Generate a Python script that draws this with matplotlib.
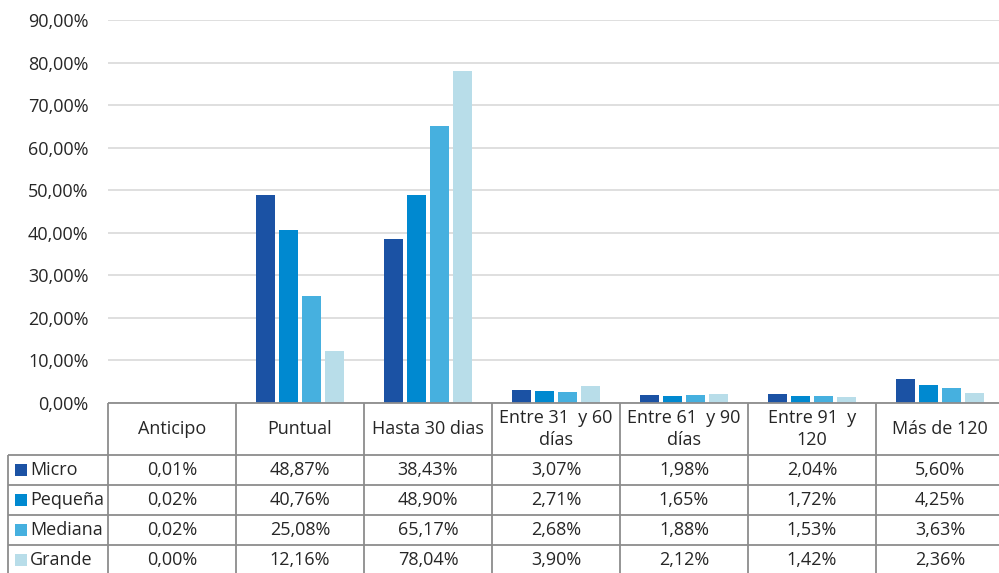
import numpy as np
import matplotlib.pyplot as plt
from matplotlib.patches import Rectangle

# --- DATA ---
categories = ["Anticipo", "Puntual", "Hasta 30 dias", "Entre 31  y 60\ndías",
              "Entre 61  y 90\ndías", "Entre 91  y\n120", "Más de 120"]
series_names = ["Micro", "Pequeña", "Mediana", "Grande"]
micro = [0.01, 48.87, 38.43, 3.07, 1.98, 2.04, 5.60]
pequena = [0.02, 40.76, 48.90, 2.71, 1.65, 1.72, 4.25]
mediana = [0.02, 25.08, 65.17, 2.68, 1.88, 1.53, 3.63]
grande = [0.00, 12.16, 78.04, 3.90, 2.12, 1.42, 2.36]
yticks = [0, 10, 20, 30, 40, 50, 60, 70, 80, 90]

series = [micro, pequena, mediana, grande]
colors = ["#1b52a4", "#0089d0", "#46b0df", "#b8dde9"]

def pct(v):
    return f"{v:.2f}%".replace(".", ",")

plt.rcParams['font.family'] = ['Open Sans', 'DejaVu Sans']
TXT = "#262626"
LINE = "#8c8c8c"
FS = 13

W, H = 999, 573
fig = plt.figure(figsize=(W / 100, H / 100), dpi=100)

# pixel geometry
x0, x1 = 108, 1004
y_top, y_zero = 20, 403
tbl_bottom = 575

ax = fig.add_axes([x0 / W, (H - y_zero) / H, (x1 - x0) / W, (y_zero - y_top) / H])
n = len(categories)
x = np.arange(n)
bar_w = 0.148
step = 0.18
for i, (vals, c) in enumerate(zip(series, colors)):
    ax.bar(x + (i - 1.5) * step, vals, width=bar_w, color=c, zorder=3)

ax.set_xlim(-0.5, n - 0.5)
ax.set_ylim(0, 90)
ax.set_yticks(yticks)
ax.set_yticklabels([pct(v) for v in yticks], fontsize=FS, color=TXT)
ax.tick_params(axis='y', length=0, pad=14)
ax.set_xticks([])
ax.grid(axis='y', color="#d9d9d9", linewidth=1.2, zorder=0)
for s in ax.spines.values():
    s.set_visible(False)

# --- DATA TABLE ---
tax = fig.add_axes([x0 / W, (H - tbl_bottom) / H, (x1 - x0) / W, (tbl_bottom - y_zero) / H])
tax.set_xlim(-0.5, n - 0.5)
tax.set_ylim(tbl_bottom, y_zero)
tax.axis('off')

px = n / (x1 - x0)  # category units per pixel
label_left = -0.5 - (x0 - 8) * px
row_edges = [455, 485, 515, 545, tbl_bottom]

kw = dict(color=LINE, linewidth=1.3, clip_on=False, solid_capstyle='butt')
tax.plot([-0.5, n - 0.5], [y_zero, y_zero], **kw)
for y in row_edges[:-1]:
    tax.plot([label_left, n - 0.5], [y, y], **kw)
for k in range(n + 1):
    tax.plot([k - 0.5, k - 0.5], [y_zero, tbl_bottom], **kw)
tax.plot([label_left, label_left], [row_edges[0], tbl_bottom], **kw)

# header text
for k, cat in enumerate(categories):
    tax.text(k, (y_zero + row_edges[0]) / 2, cat, ha='center', va='center',
             fontsize=FS, color=TXT, linespacing=1.25)

# rows
for r, (name, vals, c) in enumerate(zip(series_names, series, colors)):
    ytop = row_edges[r]
    yc = ytop + 15
    sq = 12
    tax.add_patch(Rectangle((label_left + 7 * px, yc - sq / 2), sq * px, sq,
                            facecolor=c, edgecolor='none', clip_on=False))
    tax.text(label_left + 22 * px, yc, name, ha='left', va='center',
             fontsize=FS, color=TXT)
    for k, v in enumerate(vals):
        tax.text(k, yc, pct(v), ha='center', va='center', fontsize=FS, color=TXT)

fig.savefig("out.png", dpi=100)
